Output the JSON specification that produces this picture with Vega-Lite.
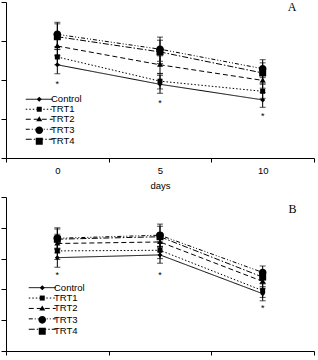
{
  "$schema": "https://vega.github.io/schema/vega-lite/v6.json",
  "background": "white",
  "padding": {"left": 0, "top": 0, "right": 0, "bottom": 0},
  "spacing": 6,
  "resolve": {
    "scale": {"shape": "independent", "strokeDash": "independent"},
    "legend": {"shape": "independent", "strokeDash": "independent"}
  },
  "datasets": {
    "a": [
      {"day": 0, "series": "Control", "value": 2.39, "err": 0.23},
      {"day": 5, "series": "Control", "value": 1.89, "err": 0.23},
      {"day": 10, "series": "Control", "value": 1.49, "err": 0.19},
      {"day": 0, "series": "TRT1", "value": 2.59, "err": 0.2},
      {"day": 5, "series": "TRT1", "value": 1.97, "err": 0.2},
      {"day": 10, "series": "TRT1", "value": 1.71, "err": 0.18},
      {"day": 0, "series": "TRT2", "value": 2.87, "err": 0.23},
      {"day": 5, "series": "TRT2", "value": 2.39, "err": 0.23},
      {"day": 10, "series": "TRT2", "value": 1.99, "err": 0.2},
      {"day": 0, "series": "TRT3", "value": 3.17, "err": 0.31},
      {"day": 5, "series": "TRT3", "value": 2.79, "err": 0.31},
      {"day": 10, "series": "TRT3", "value": 2.29, "err": 0.23},
      {"day": 0, "series": "TRT4", "value": 3.11, "err": 0.33},
      {"day": 5, "series": "TRT4", "value": 2.72, "err": 0.3},
      {"day": 10, "series": "TRT4", "value": 2.18, "err": 0.26}
    ],
    "b": [
      {"day": 0, "series": "Control", "value": 3.03, "err": 0.31},
      {"day": 5, "series": "Control", "value": 3.12, "err": 0.27},
      {"day": 10, "series": "Control", "value": 1.86, "err": 0.23},
      {"day": 0, "series": "TRT1", "value": 3.25, "err": 0.28},
      {"day": 5, "series": "TRT1", "value": 3.27, "err": 0.27},
      {"day": 10, "series": "TRT1", "value": 1.96, "err": 0.22},
      {"day": 0, "series": "TRT2", "value": 3.49, "err": 0.3},
      {"day": 5, "series": "TRT2", "value": 3.54, "err": 0.3},
      {"day": 10, "series": "TRT2", "value": 2.26, "err": 0.22},
      {"day": 0, "series": "TRT3", "value": 3.66, "err": 0.34},
      {"day": 5, "series": "TRT3", "value": 3.76, "err": 0.36},
      {"day": 10, "series": "TRT3", "value": 2.55, "err": 0.21},
      {"day": 0, "series": "TRT4", "value": 3.63, "err": 0.33},
      {"day": 5, "series": "TRT4", "value": 3.71, "err": 0.34},
      {"day": 10, "series": "TRT4", "value": 2.4, "err": 0.2}
    ],
    "starsA": [
      {"day": 0, "value": 1.95},
      {"day": 5, "value": 1.47},
      {"day": 10, "value": 1.12}
    ],
    "starsB": [
      {"day": 0, "value": 2.54},
      {"day": 5, "value": 2.52},
      {"day": 10, "value": 1.46}
    ]
  },
  "vconcat": [
    {
      "width": 308,
      "height": 156,
      "title": {"text": "A", "anchor": "end", "dx": -18, "offset": -12, "font": "Liberation Serif", "fontSize": 12, "fontWeight": "normal", "color": "black"},
      "data": {"name": "a"},
      "encoding": {
        "x": {
          "field": "day", "type": "quantitative",
          "scale": {"domain": [-2.5, 12.5], "nice": false, "zero": false},
          "axis": {
            "values": [-2.5, 0, 2.5, 5, 7.5, 10, 12.5],
            "labelExpr": "datum.value % 5 === 0 ? datum.label : ''",
            "tickOpacity": {"condition": {"test": "datum.value % 5 === 0", "value": 0}, "value": 1},
            "tickSize": 4, "labelPadding": 3, "title": "days", "titlePadding": 6,
            "grid": false, "labelOverlap": false, "labelBound": false, "labelFlush": false
          }
        },
        "y": {
          "field": "value", "type": "quantitative",
          "scale": {"domain": [0, 4], "nice": false, "zero": false},
          "axis": {"values": [0, 1, 2, 3, 4], "labels": false, "tickSize": 5, "title": null, "grid": false}
        }
      },
      "layer": [
        {
          "mark": {"type": "errorbar", "ticks": {"size": 6, "color": "black"}, "color": "black", "thickness": 1},
          "encoding": {"yError": {"field": "err"}, "detail": {"field": "series"}}
        },
        {
          "mark": {"type": "line", "strokeWidth": 1, "color": "black"},
          "encoding": {
            "strokeDash": {
              "field": "series", "type": "nominal",
              "scale": {"domain": ["Control", "TRT1", "TRT2", "TRT3", "TRT4"], "range": [[1, 0], [1.5, 2], [5, 3], [4, 2, 1, 2, 1, 2], [6, 2, 1.5, 2]]},
              "legend": {"orient": "none", "legendX": 28.5, "legendY": 92.5, "title": null, "symbolType": "M-6.75,0H6.75", "symbolSize": 16, "symbolStrokeWidth": 1, "symbolStrokeColor": "black", "labelExpr": "''", "labelOffset": 7, "rowPadding": -1, "padding": 0}
            }
          }
        },
        {
          "mark": {"type": "point", "filled": true, "size": 16, "opacity": 1, "color": "black", "strokeWidth": 0},
          "encoding": {
            "shape": {
              "field": "series", "type": "nominal",
              "scale": {"range": ["M0,-1.25L1.25,0L0,1.25L-1.25,0Z", "M-1.25,-1.25H1.25V1.25H-1.25Z", "M0,-1.5L1.5,1H-1.5Z", "M-1.9,0A1.9,1.9,0,1,0,1.9,0A1.9,1.9,0,1,0,-1.9,0Z", "M-1.75,-1.75H1.75V1.75H-1.75Z"]},
              "legend": {"orient": "none", "legendX": 28.5, "legendY": 92.5, "title": null, "symbolSize": 16, "symbolStrokeWidth": 1, "symbolFillColor": "black", "symbolOpacity": 1, "labelOffset": 7, "rowPadding": -1, "padding": 0}
            }
          }
        },
        {
          "data": {"name": "starsA"},
          "mark": {"type": "text", "text": "*", "font": "Liberation Sans", "fontSize": 9, "color": "black", "baseline": "middle", "dy": 2}
        }
      ]
    },
    {
      "width": 308,
      "height": 154,
      "title": {"text": "B", "anchor": "end", "dx": -18, "offset": -19, "font": "Liberation Serif", "fontSize": 12, "fontWeight": "normal", "color": "black"},
      "data": {"name": "b"},
      "encoding": {
        "x": {
          "field": "day", "type": "quantitative",
          "scale": {"domain": [-2.5, 12.5], "nice": false, "zero": false},
          "axis": {
            "values": [-2.5, 0, 2.5, 5, 7.5, 10, 12.5],
            "labelExpr": "datum.value % 5 === 0 ? datum.label : ''",
            "tickOpacity": {"condition": {"test": "datum.value % 5 === 0", "value": 0}, "value": 1},
            "tickSize": 4, "labelPadding": 3, "title": "days", "titlePadding": 6,
            "grid": false, "labelOverlap": false, "labelBound": false, "labelFlush": false
          }
        },
        "y": {
          "field": "value", "type": "quantitative",
          "scale": {"domain": [0, 5], "nice": false, "zero": false},
          "axis": {"values": [0, 1, 2, 3, 4, 5], "labels": false, "tickSize": 5, "title": null, "grid": false}
        }
      },
      "layer": [
        {
          "mark": {"type": "errorbar", "ticks": {"size": 6, "color": "black"}, "color": "black", "thickness": 1},
          "encoding": {"yError": {"field": "err"}, "detail": {"field": "series"}}
        },
        {
          "mark": {"type": "line", "strokeWidth": 1, "color": "black"},
          "encoding": {
            "strokeDash": {
              "field": "series", "type": "nominal",
              "scale": {"domain": ["Control", "TRT1", "TRT2", "TRT3", "TRT4"], "range": [[1, 0], [1.5, 2], [5, 3], [4, 2, 1, 2, 1, 2], [6, 2, 1.5, 2]]},
              "legend": {"orient": "none", "legendX": 31.5, "legendY": 85.9, "title": null, "symbolType": "M-6.75,0H6.75", "symbolSize": 16, "symbolStrokeWidth": 1, "symbolStrokeColor": "black", "labelExpr": "''", "labelOffset": 7, "rowPadding": -0.6, "padding": 0}
            }
          }
        },
        {
          "mark": {"type": "point", "filled": true, "size": 16, "opacity": 1, "color": "black", "strokeWidth": 0},
          "encoding": {
            "shape": {
              "field": "series", "type": "nominal",
              "scale": {"range": ["M0,-1.25L1.25,0L0,1.25L-1.25,0Z", "M-1.25,-1.25H1.25V1.25H-1.25Z", "M0,-1.5L1.5,1H-1.5Z", "M-1.9,0A1.9,1.9,0,1,0,1.9,0A1.9,1.9,0,1,0,-1.9,0Z", "M-1.75,-1.75H1.75V1.75H-1.75Z"]},
              "legend": {"orient": "none", "legendX": 31.5, "legendY": 85.9, "title": null, "symbolSize": 16, "symbolStrokeWidth": 1, "symbolFillColor": "black", "symbolOpacity": 1, "labelOffset": 7, "rowPadding": -0.6, "padding": 0}
            }
          }
        },
        {
          "data": {"name": "starsB"},
          "mark": {"type": "text", "text": "*", "font": "Liberation Sans", "fontSize": 9, "color": "black", "baseline": "middle", "dy": 2}
        }
      ]
    }
  ],
  "config": {
    "view": {"stroke": null},
    "font": "Liberation Sans",
    "axis": {
      "domainColor": "black", "domainWidth": 1, "tickColor": "black", "tickWidth": 1,
      "labelFont": "Liberation Sans", "labelFontSize": 9.5, "labelColor": "black",
      "titleFont": "Liberation Sans", "titleFontSize": 9.5, "titleFontWeight": "normal", "titleColor": "black"
    },
    "legend": {"labelFont": "Liberation Sans", "labelFontSize": 9.5, "labelColor": "black"}
  }
}
